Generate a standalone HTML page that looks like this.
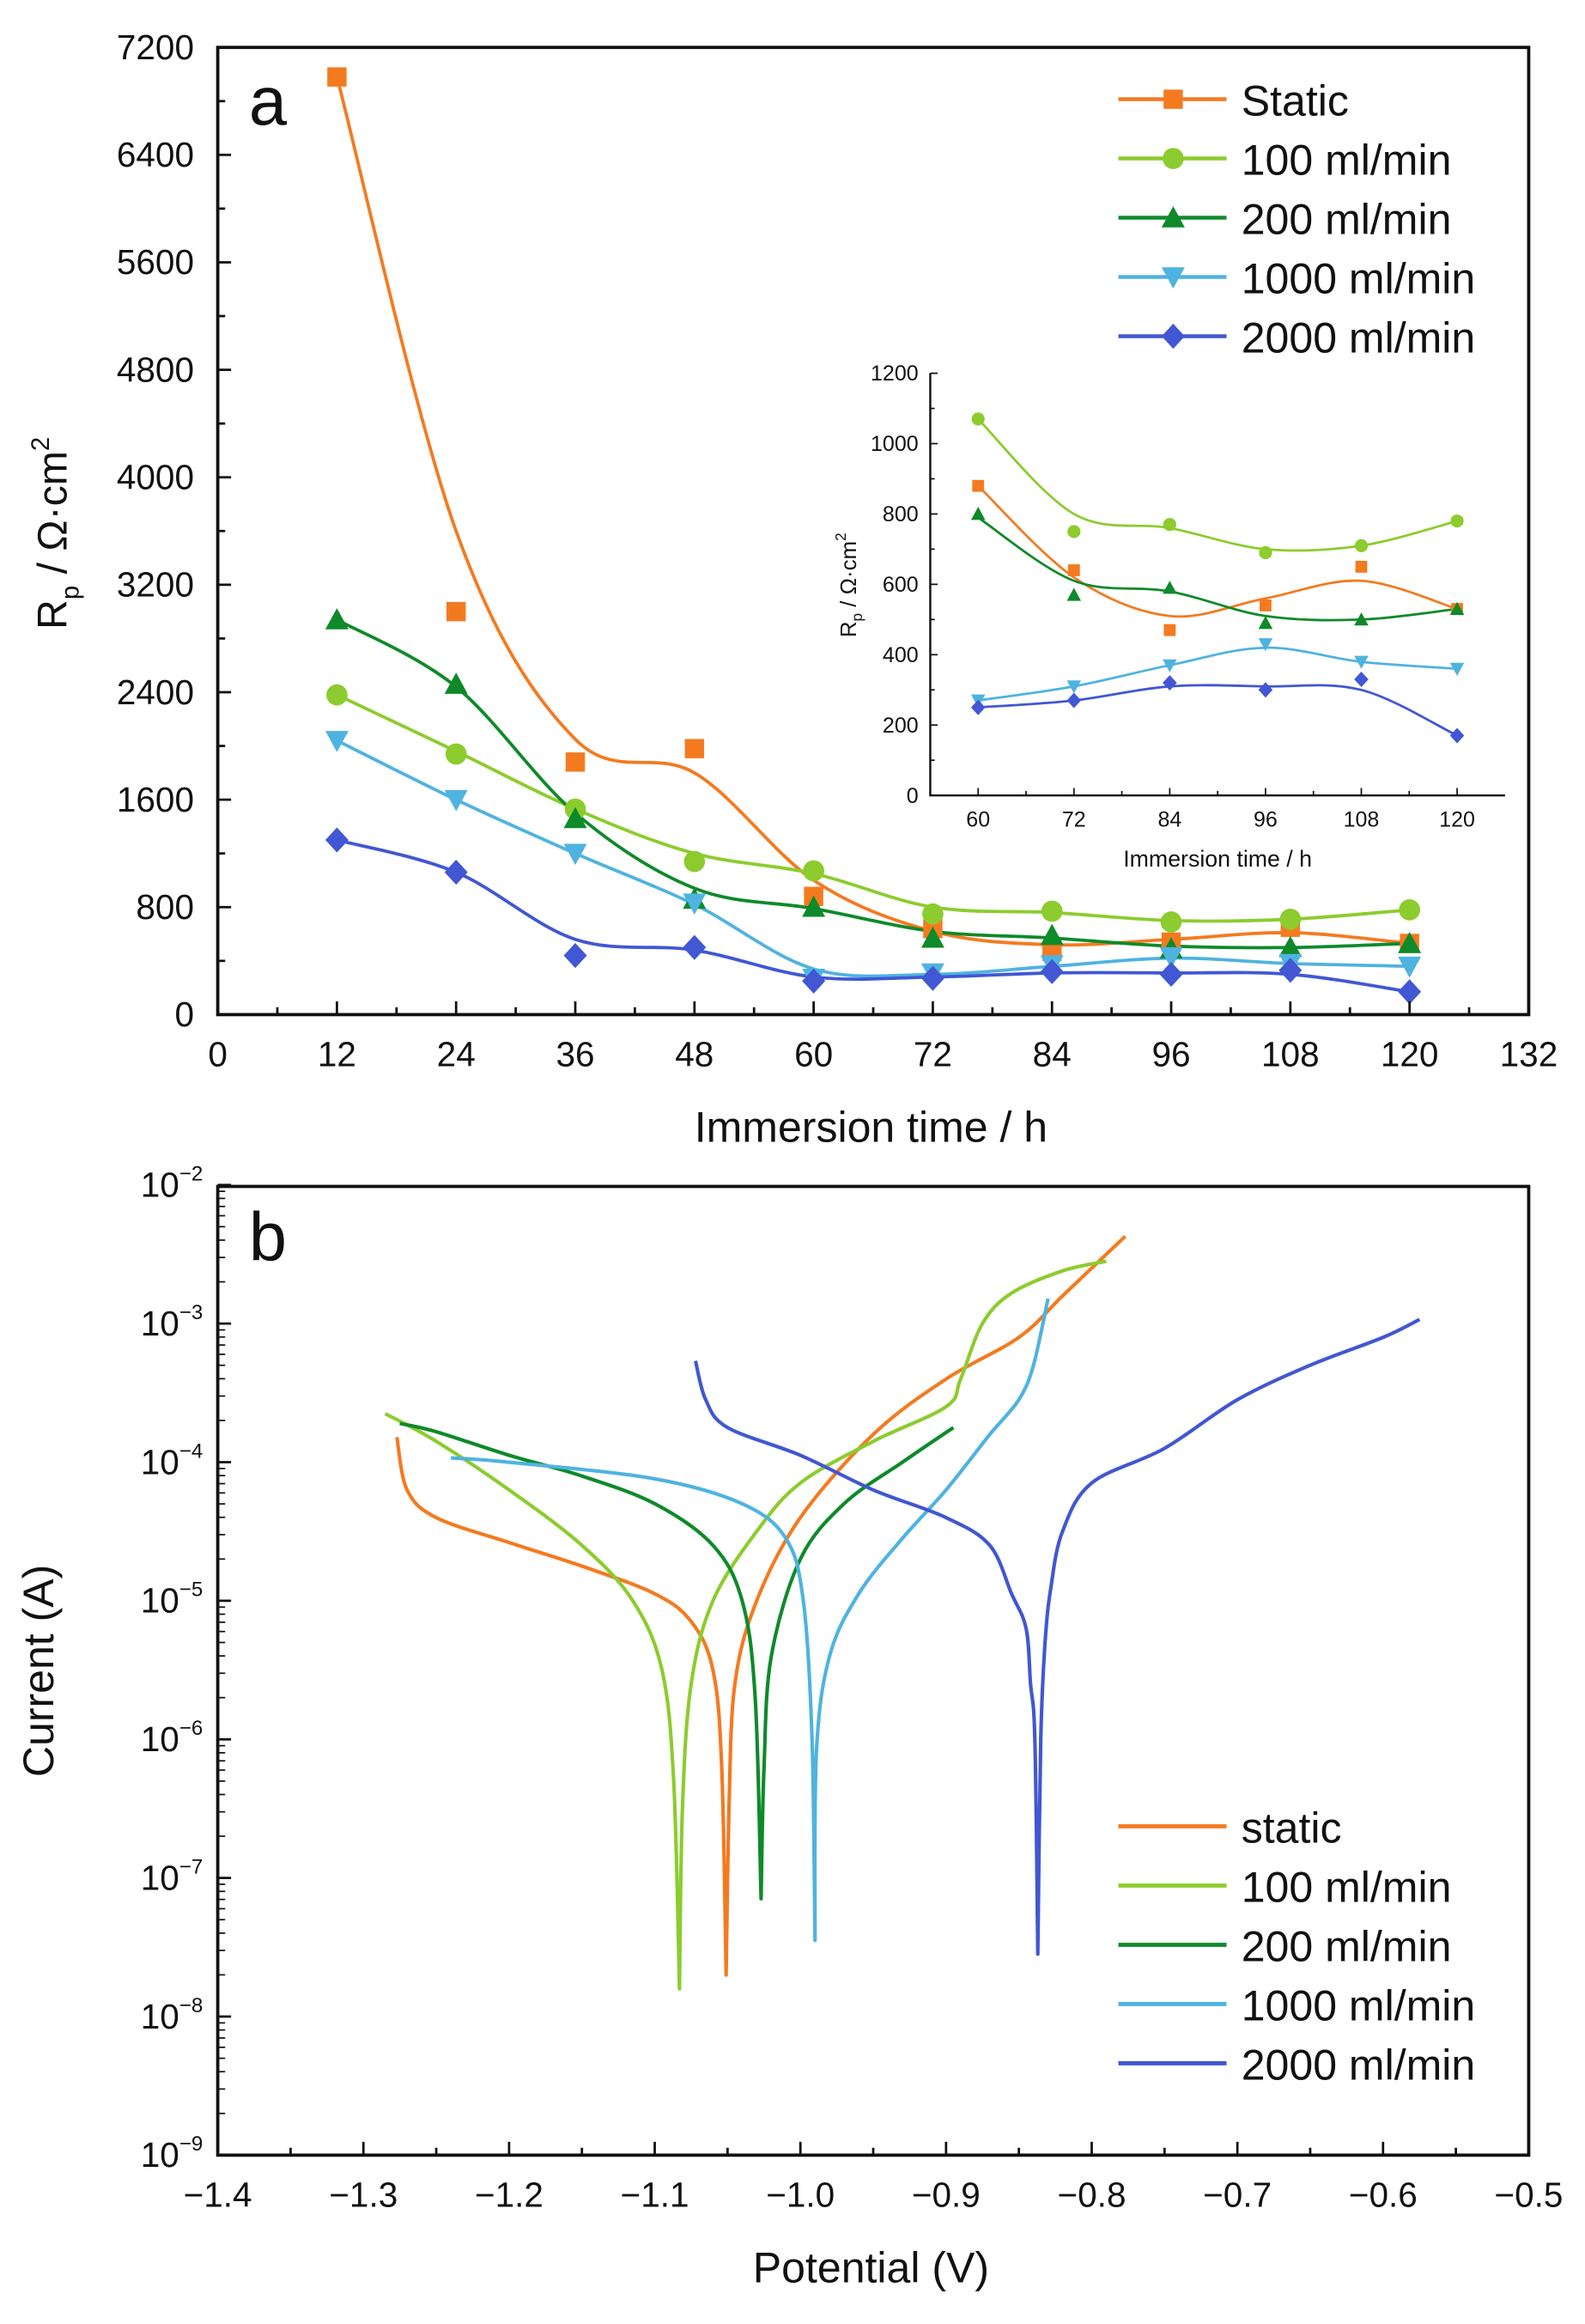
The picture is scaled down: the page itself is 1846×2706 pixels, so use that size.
<!DOCTYPE html>
<html><head><meta charset="utf-8"><style>
html,body{margin:0;padding:0;background:#fff}
svg{display:block}
text{font-family:"Liberation Sans",Arial,sans-serif;fill:#111}
</style></head><body>
<svg id="s" width="1846" height="2706" viewBox="0 0 1070 1569" preserveAspectRatio="none" xmlns="http://www.w3.org/2000/svg"></svg>
<script>
const S=document.getElementById('s');let h='';
function cr(pts){
  let d='M'+pts[0][0].toFixed(1)+','+pts[0][1].toFixed(1);
  for(let i=0;i<pts.length-1;i++){const p0=pts[i-1]||pts[i],p1=pts[i],p2=pts[i+1],p3=pts[i+2]||p2;
    const c1=[p1[0]+(p2[0]-p0[0])/6,p1[1]+(p2[1]-p0[1])/6],c2=[p2[0]-(p3[0]-p1[0])/6,p2[1]-(p3[1]-p1[1])/6];
    d+=`C${c1[0].toFixed(1)},${c1[1].toFixed(1)} ${c2[0].toFixed(1)},${c2[1].toFixed(1)} ${p2[0].toFixed(1)},${p2[1].toFixed(1)}`;}
  return d;}
function line(d,c,w){h+=`<path d="${d}" fill="none" stroke="${c}" stroke-width="${w}" stroke-linejoin="round"/>`;}
function mk(t,x,y,c,r){
  if(t=='s')h+=`<rect x="${x-r}" y="${y-r}" width="${2*r}" height="${2*r}" fill="${c}"/>`;
  if(t=='c')h+=`<circle cx="${x}" cy="${y}" r="${r*1.1}" fill="${c}"/>`;
  if(t=='u')h+=`<polygon points="${x},${y-r*1.2} ${x-r*1.2},${y+r} ${x+r*1.2},${y+r}" fill="${c}"/>`;
  if(t=='d')h+=`<polygon points="${x},${y+r*1.2} ${x-r*1.2},${y-r} ${x+r*1.2},${y-r}" fill="${c}"/>`;
  if(t=='k')h+=`<polygon points="${x},${y-r*1.3} ${x+r*1.2},${y} ${x},${y+r*1.3} ${x-r*1.2},${y}" fill="${c}"/>`;}
const C=['#f47a20','#8ccc2e','#0e8a2a','#4fb3e0','#4157d3'];
const M=['s','c','u','d','k'];
const T=[12,24,36,48,60,72,84,96,108,120];
const P=[[6980,3000,1880,1980,880,640,470,540,650,530],
[2380,1940,1530,1140,1070,750,770,690,710,780],
[2940,2460,1460,860,800,570,590,490,500,530],
[2040,1600,1200,830,270,310,370,430,380,360],
[1300,1060,440,500,250,270,320,300,330,170]];
const L=[[6980,3600,2050,1800,1000,620,520,560,610,530],
[2380,1960,1530,1200,1050,800,760,700,710,780],
[2940,2440,1500,940,790,620,570,510,500,530],
[2040,1600,1200,820,340,300,360,420,380,360],
[1300,1060,560,480,280,280,310,310,300,170]];
const ax=t=>147+t/132*885, ay=v=>685-v/7200*653;
for(let k=0;k<5;k++){line(cr(T.map((t,i)=>[ax(t),ay(L[k][i])])),C[k],2.2);}
for(let k=0;k<5;k++)T.forEach((t,i)=>{mk(M[k],ax(t),ay(P[k][i]),C[k],6.5)});
h+=`<rect x="147" y="32" width="885" height="653" fill="none" stroke="#111" stroke-width="2.2"/>`;
for(let t=0;t<=132;t+=6){const x=ax(t),l=t%12?5:9;h+=`<line x1="${x}" y1="685" x2="${x}" y2="${685-l}" stroke="#111" stroke-width="1.6"/>`;
 if(t%12==0)h+=`<text x="${x}" y="720" font-size="23.5" text-anchor="middle">${t}</text>`;}
for(let v=0;v<=7200;v+=400){const y=ay(v),l=v%800?5:9;h+=`<line x1="147" y1="${y}" x2="${147+l}" y2="${y}" stroke="#111" stroke-width="1.6"/>`;
 if(v%800==0)h+=`<text x="131" y="${y+8}" font-size="23.5" text-anchor="end">${v}</text>`;}
h+=`<text x="168" y="84" font-size="46">a</text>`;
h+=`<text x="588" y="771" font-size="29" text-anchor="middle">Immersion time / h</text>`;
h+=`<text transform="translate(45,360) rotate(-90)" font-size="28" text-anchor="middle">R<tspan font-size="17" dy="8">p</tspan><tspan dy="-8"> / Ω·cm</tspan><tspan font-size="17" dy="-12">2</tspan></text>`;
const LN=['Static','100 ml/min','200 ml/min','1000 ml/min','2000 ml/min'];
for(let k=0;k<5;k++){const y=67+40*k;line(`M755,${y}H828`,C[k],2.6);mk(M[k],792,y,C[k],6.5);h+=`<text x="838" y="${y+11}" font-size="29">${LN[k]}</text>`;}
const ix=t=>628+(t-54)/72*388, iy=v=>537-v/1200*285;
const LI=[[880,620,510,560,610,530],[1070,800,760,700,710,780],[790,610,580,510,500,530],[270,310,370,420,380,360],[250,270,310,310,300,170]];
for(let k=0;k<5;k++){line(cr(T.slice(4).map((t,i)=>[ix(t),iy(LI[k][i])])),C[k],1.6);}
for(let k=0;k<5;k++)T.slice(4).forEach((t,i)=>mk(M[k],ix(t),iy(P[k][i+4]),C[k],4));
h+=`<path d="M628,252V537H1016" fill="none" stroke="#111" stroke-width="1.4"/>`;
for(let t=60;t<=120;t+=6){const x=ix(t),l=t%12?3:5;h+=`<line x1="${x}" y1="537" x2="${x}" y2="${537-l}" stroke="#111" stroke-width="1"/>`;
 if(t%12==0)h+=`<text x="${x}" y="558" font-size="14.5" text-anchor="middle">${t}</text>`;}
for(let v=0;v<=1200;v+=100){const y=iy(v),l=v%200?3:5;h+=`<line x1="628" y1="${y}" x2="${628+l}" y2="${y}" stroke="#111" stroke-width="1"/>`;
 if(v%200==0)h+=`<text x="620" y="${y+5}" font-size="14.5" text-anchor="end">${v}</text>`;}
h+=`<text x="822" y="585" font-size="15.5" text-anchor="middle">Immersion time / h</text>`;
h+=`<text transform="translate(578,395) rotate(-90)" font-size="15" text-anchor="middle">R<tspan font-size="10" dy="4">p</tspan><tspan dy="-4"> / Ω·cm</tspan><tspan font-size="10" dy="-7">2</tspan></text>`;
const bx=v=>147+(v+1.4)/0.9*885, by=l=>1455-(l+9)*93.57;
const B=[
[[-1.277,-3.82],[-1.27,-4.2],[-1.25,-4.4],[-1.2,-4.58],[-1.15,-4.75],[-1.1,-4.95],[-1.075,-5.15],[-1.06,-5.5],[-1.054,-6.2],[-1.051,-7.7],[-1.049,-6.5],[-1.045,-5.6],[-1.03,-5.0],[-1.0,-4.4],[-0.95,-3.8],[-0.9,-3.4],[-0.85,-3.1],[-0.82,-2.8],[-0.79,-2.5],[-0.777,-2.37]],
[[-1.285,-3.65],[-1.25,-3.85],[-1.2,-4.2],[-1.15,-4.6],[-1.115,-5.0],[-1.095,-5.5],[-1.087,-6.3],[-1.083,-7.8],[-1.081,-6.5],[-1.075,-5.6],[-1.06,-5.0],[-1.03,-4.5],[-1.0,-4.15],[-0.95,-3.85],[-0.9,-3.6],[-0.89,-3.4],[-0.875,-3.0],[-0.855,-2.78],[-0.82,-2.62],[-0.79,-2.55]],
[[-1.275,-3.72],[-1.25,-3.78],[-1.2,-3.95],[-1.15,-4.1],[-1.1,-4.3],[-1.06,-4.6],[-1.04,-5.0],[-1.031,-5.7],[-1.027,-7.15],[-1.025,-6.2],[-1.02,-5.4],[-1.0,-4.7],[-0.97,-4.3],[-0.93,-4.0],[-0.895,-3.75]],
[[-1.24,-3.97],[-1.2,-4.0],[-1.1,-4.12],[-1.04,-4.3],[-1.01,-4.55],[-0.998,-5.0],[-0.992,-6.0],[-0.990,-7.45],[-0.989,-6.1],[-0.98,-5.4],[-0.96,-4.95],[-0.93,-4.55],[-0.9,-4.2],[-0.87,-3.8],[-0.85,-3.55],[-0.84,-3.3],[-0.83,-2.82]],
[[-1.072,-3.27],[-1.065,-3.55],[-1.05,-3.75],[-1.0,-3.95],[-0.95,-4.2],[-0.9,-4.4],[-0.87,-4.6],[-0.855,-4.95],[-0.845,-5.2],[-0.842,-5.6],[-0.839,-6.0],[-0.837,-7.55],[-0.835,-6.0],[-0.832,-5.3],[-0.828,-4.9],[-0.82,-4.5],[-0.8,-4.15],[-0.75,-3.9],[-0.7,-3.55],[-0.65,-3.3],[-0.6,-3.1],[-0.575,-2.97]]];
for(let k=0;k<5;k++){
  const pts=B[k].map(p=>[bx(p[0]),by(p[1])]);
  // split at the minimum (sharp spike) for smooth branches
  let mi=0;pts.forEach((p,i)=>{if(p[1]>pts[mi][1])mi=i;});
  line(cr(pts.slice(0,mi+1))+' '+cr(pts.slice(mi)).replace('M','L'),C[k],2.4);
}
h+=`<rect x="147" y="801" width="885" height="654" fill="none" stroke="#111" stroke-width="2.2"/>`;
const XL=['−1.4','−1.3','−1.2','−1.1','−1.0','−0.9','−0.8','−0.7','−0.6','−0.5'];
for(let i=0;i<=18;i++){const v=-1.4+i*0.05,x=bx(v),l=i%2?5:9;h+=`<line x1="${x}" y1="1455" x2="${x}" y2="${1455-l}" stroke="#111" stroke-width="1.6"/>`;
 if(i%2==0)h+=`<text x="${x}" y="1490" font-size="23.5" text-anchor="middle">${XL[i/2]}</text>`;}
for(let e=-9;e<=-2;e++){const y=by(e);h+=`<line x1="147" y1="${y}" x2="156" y2="${y}" stroke="#111" stroke-width="1.6"/>`;
 h+=`<text x="137" y="${y+8}" font-size="23.5" text-anchor="end">10<tspan font-size="14" dy="-11">${e<0?'−'+(-e):e}</tspan></text>`;
 if(e<-2)for(let m=2;m<10;m++){const yy=by(e+Math.log10(m));h+=`<line x1="147" y1="${yy}" x2="152" y2="${yy}" stroke="#111" stroke-width="1"/>`;}}
h+=`<text x="168" y="851" font-size="46">b</text>`;
h+=`<text x="588" y="1541" font-size="29" text-anchor="middle">Potential (V)</text>`;
h+=`<text transform="translate(36,1128) rotate(-90)" font-size="29" text-anchor="middle">Current (A)</text>`;
const LB=['static','100 ml/min','200 ml/min','1000 ml/min','2000 ml/min'];
for(let k=0;k<5;k++){const y=1233+40*k;line(`M755,${y}H828`,C[k],2.8);h+=`<text x="838" y="${y+11}" font-size="29">${LB[k]}</text>`;}
S.innerHTML=h;
</script>
</body></html>
